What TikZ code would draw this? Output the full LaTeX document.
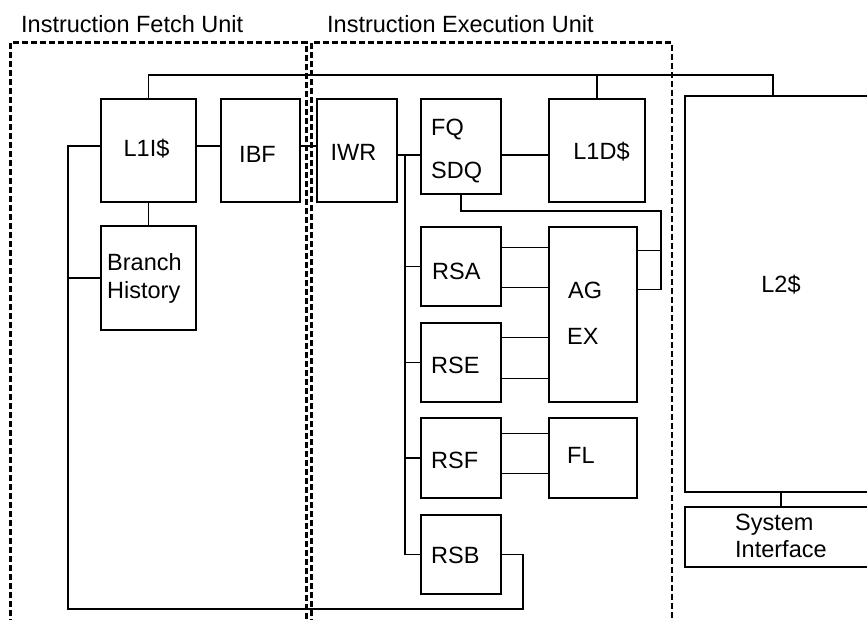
\documentclass[tikz,border=0pt]{standalone}
\usepackage{fontspec}
\setmainfont{Liberation Sans}
\begin{document}
\begin{tikzpicture}[x=1pt,y=-1pt,
  blk/.style={draw, line width=1.4pt, inner sep=0pt},
  lbl/.style={inner sep=0pt, font=\fontsize{23.5}{28}\selectfont},
  wire/.style={line width=1.3pt},
  dashbox/.style={line width=2.6pt, dash pattern=on 6pt off 3pt}]
\useasboundingbox (0,0) rectangle (867,619);
\fill[white] (0,0) rectangle (867,619);
\begin{scope}
\clip (0,0) rectangle (867,619);
% unit frames
\draw[dashbox] (10.5,625) |- (306.5,42.5) -- (306.5,625);
\draw[dashbox] (311.5,625) |- (672,42.5) -- (672,625);
\node[lbl, anchor=base west] (tf) at (21,32) {Instruction Fetch Unit};
\node[lbl, anchor=base west] (te) at (327,32) {Instruction Execution Unit};
% boxes
\node[blk, minimum width=95, minimum height=103] (l1i) at (148.5,150.5) {};
\node[blk, minimum width=79, minimum height=103] (ibf) at (260.5,150.5) {};
\node[blk, minimum width=95, minimum height=104] (bh) at (148.5,278) {};
\node[blk, minimum width=80, minimum height=103] (iwr) at (357,150.5) {};
\node[blk, minimum width=80, minimum height=95] (fq) at (461,146.5) {};
\node[blk, minimum width=96, minimum height=103] (l1d) at (597,150.5) {};
\node[blk, minimum width=80, minimum height=79] (rsa) at (461,266.5) {};
\node[blk, minimum width=80, minimum height=79] (rse) at (461,362.5) {};
\node[blk, minimum width=80, minimum height=80] (rsf) at (461,458) {};
\node[blk, minimum width=80, minimum height=79] (rsb) at (461,554.5) {};
\node[blk, minimum width=88, minimum height=175] (ag) at (593,314.5) {};
\node[blk, minimum width=88, minimum height=80] (fl) at (593,458) {};
\node[blk, minimum width=192, minimum height=396] (l2) at (781,294) {};
\node[blk, minimum width=192, minimum height=60] (si) at (781,537) {};
% labels
\node[lbl, anchor=base] (tl1i) at (146.5,156) {L1I\$};
\node[lbl, anchor=base] (tibf) at (257.5,162) {IBF};
\node[lbl, anchor=base] (tiwr) at (353.5,160) {IWR};
\node[lbl, anchor=base west] (tfq) at (431,135) {FQ};
\node[lbl, anchor=base west] (tsdq) at (431,178) {SDQ};
\node[lbl, anchor=base] (tl1d) at (601.5,159) {L1D\$};
\node[lbl, anchor=base west] (trsa) at (432,279) {RSA};
\node[lbl, anchor=base west] (tag) at (568,298) {AG};
\node[lbl, anchor=base west] (tex) at (567,344) {EX};
\node[lbl, anchor=base west] (trse) at (431,373) {RSE};
\node[lbl, anchor=base west] (trsf) at (431,468) {RSF};
\node[lbl, anchor=base west] (tfl) at (567,463) {FL};
\node[lbl, anchor=base west] (trsb) at (431,563) {RSB};
\node[lbl, anchor=base west] (tbr) at (107,270) {Branch};
\node[lbl, anchor=base west] (thi) at (107,298) {History};
\node[lbl, anchor=base] (tl2) at (781,292) {L2\$};
\node[lbl, anchor=base west] (tsys) at (735,530) {System};
\node[lbl, anchor=base west] (tint) at (735,557) {Interface};
% coordinates
\coordinate (bL) at (148.5,75);
\coordinate (bR) at (773,75);
\coordinate (jn) at (405,155);
\coordinate (sq) at (661,211);
\coordinate (lp) at (68,609);
\coordinate (rp) at (523,609);
\coordinate (agA) at ([yshift=-24pt]ag.north east);
\coordinate (agB) at ([yshift=-63pt]ag.north east);
\coordinate (a1) at ([yshift=-21pt]rsa.north east);
\coordinate (a2) at ([yshift=-61pt]rsa.north east);
\coordinate (e1) at ([yshift=-15pt]rse.north east);
\coordinate (e2) at ([yshift=-56pt]rse.north east);
\coordinate (f1) at ([yshift=-16pt]rsf.north east);
\coordinate (f2) at ([yshift=-56pt]rsf.north east);
% wires
\draw[wire] (l1i.north) -- (bL) -- (bR) -- (bR |- l2.north);
\draw[wire] (l1d.north) -- (l1d.north |- bL);
\draw[wire] ([yshift=4.5pt]l1i.east) -- ([yshift=4.5pt]ibf.west);
\draw[wire] ([yshift=4.5pt]ibf.east) -- ([yshift=4.5pt]iwr.west);
\draw[wire] (l1i.south) -- (bh.north);
\draw[wire] ([yshift=4.5pt]l1i.west) -| (lp) -- (rp) |- (rsb.east);
\draw[wire] (bh.west) -- (bh.west -| lp);
\draw[wire] (iwr.east |- jn) -- (fq.west |- jn);
\draw[wire] (jn) |- (rsb.west);
\draw[wire] (rsa.west -| jn) -- (rsa.west);
\draw[wire] (rse.west -| jn) -- (rse.west);
\draw[wire] (rsf.west -| jn) -- (rsf.west);
\draw[wire] (fq.east |- jn) -- (l1d.west |- jn);
\draw[wire] (fq.south) |- (sq) |- (agB);
\draw[wire] (agA) -- (agA -| sq);
\draw[wire] (a1) -- (a1 -| ag.west);
\draw[wire] (a2) -- (a2 -| ag.west);
\draw[wire] (e1) -- (e1 -| ag.west);
\draw[wire] (e2) -- (e2 -| ag.west);
\draw[wire] (f1) -- (f1 -| fl.west);
\draw[wire] (f2) -- (f2 -| fl.west);
\draw[wire] (l2.south) -- (si.north);
\end{scope}
\end{tikzpicture}
\end{document}
